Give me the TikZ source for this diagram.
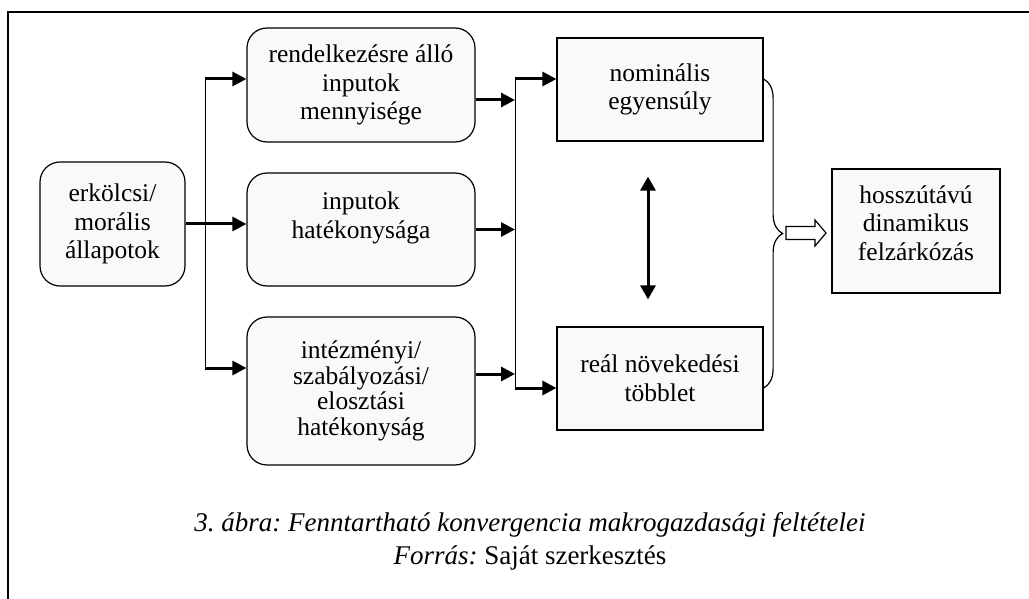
\documentclass[tikz,border=0pt]{standalone}
\usepackage{fontspec}
\setmainfont{Liberation Serif}
\usetikzlibrary{arrows.meta,decorations.pathreplacing}
\frenchspacing

\begin{document}
\begin{tikzpicture}[x=1pt,y=-1pt,
  txt/.style={font=\fontsize{25.5}{28.5}\selectfont,align=center,inner sep=0pt},
  rbox/.style={txt,draw,fill=gray!5,line width=1.2pt,rounded corners=20pt},
  sbox/.style={txt,draw,fill=gray!5,line width=1.2pt},
  bus/.style={line width=1pt},
  thick arr/.style={line width=3pt,-{Triangle[length=14pt,width=14pt]}},
  both arr/.style={line width=3pt,{Triangle[length=14pt,width=15pt]}-{Triangle[length=14pt,width=15pt]}}]
\useasboundingbox (0,0) rectangle (1029,599);
%frame
\draw[line width=1.5pt] (8,599) -- (8,12) -- (1029,12);
%left column
\node[rbox,minimum width=145pt,minimum height=124pt] (moral) at (112.5,224) {erkölcsi/\\morális\\állapotok};
%middle column
\node[rbox,minimum width=228pt,minimum height=114pt] (mennyiseg) at (361,85) {rendelkezésre álló\\inputok\\mennyisége};
\node[rbox,minimum width=228pt,minimum height=113pt] (hatekony) at (361,229.5) {inputok\\hatékonysága\\~};
\node[rbox,minimum width=228pt,minimum height=148pt,font=\fontsize{25.5}{25.5}\selectfont] (intezmeny) at (361,391) {intézményi/\\szabályozási/\\elosztási\\hatékonyság};
%right column
\node[sbox,minimum width=206pt,minimum height=103pt] (nominalis) at (660,89.5) {nominális\\egyensúly};
\node[sbox,minimum width=206pt,minimum height=103pt] (real) at (660,378.5) {reál növekedési\\többlet};
\node[sbox,minimum width=168pt,minimum height=124pt] (felzarkozas) at (916,231) {hosszútávú\\dinamikus\\felzárkózás\\[-12pt]~};
%left bus
\coordinate (lt) at (205,79);
\coordinate (lb) at (205,368);
\draw[bus] (lt) -- (lb);
\draw[thick arr] (lt) -- (lt -| mennyiseg.west);
\draw[thick arr] (moral.east) -- (moral.east -| hatekony.west);
\draw[thick arr] (lb) -- (lb -| intezmeny.west);
%right bus
\coordinate (rt) at (515,79);
\coordinate (rb) at (515,388);
\coordinate (m1) at ([yshift=-15pt]mennyiseg.east);
\coordinate (m3) at ([yshift=17pt]intezmeny.east);
\draw[bus] (rt) -- (rb);
\draw[thick arr] (m1) -- (m1 -| rt);
\draw[thick arr] (hatekony.east) -- (hatekony.east -| rt);
\draw[thick arr] (m3) -- (m3 -| rt);
\draw[thick arr] (rt) -- (rt -| nominalis.west);
\draw[thick arr] (rb) -- (rb -| real.west);
%between the two
\draw[both arr,shorten <=35pt,shorten >=27pt] ([xshift=-12pt]nominalis.south) -- ([xshift=-12pt]real.north);
%brace and open arrow
\draw[line width=1.2pt,decorate,decoration={brace,amplitude=19pt}] ([yshift=10.5pt]nominalis.east) -- ([yshift=-9.5pt]real.east);
\draw[line width=1.2pt,fill=white] (786,226.5) -- (815,226.5) -- (815,220) -- (826,233) -- (815,246) -- (815,239.5) -- (786,239.5) -- cycle;
%caption
\node[txt,font=\fontsize{27}{33}\selectfont] (abra) at (530,525) {\textit{3. ábra: Fenntartható konvergencia makrogazdasági feltételei}};
\node[txt,font=\fontsize{27}{33}\selectfont] (forras) at (530,558) {\textit{Forrás:} Saját szerkesztés};
\end{tikzpicture}
\end{document}
